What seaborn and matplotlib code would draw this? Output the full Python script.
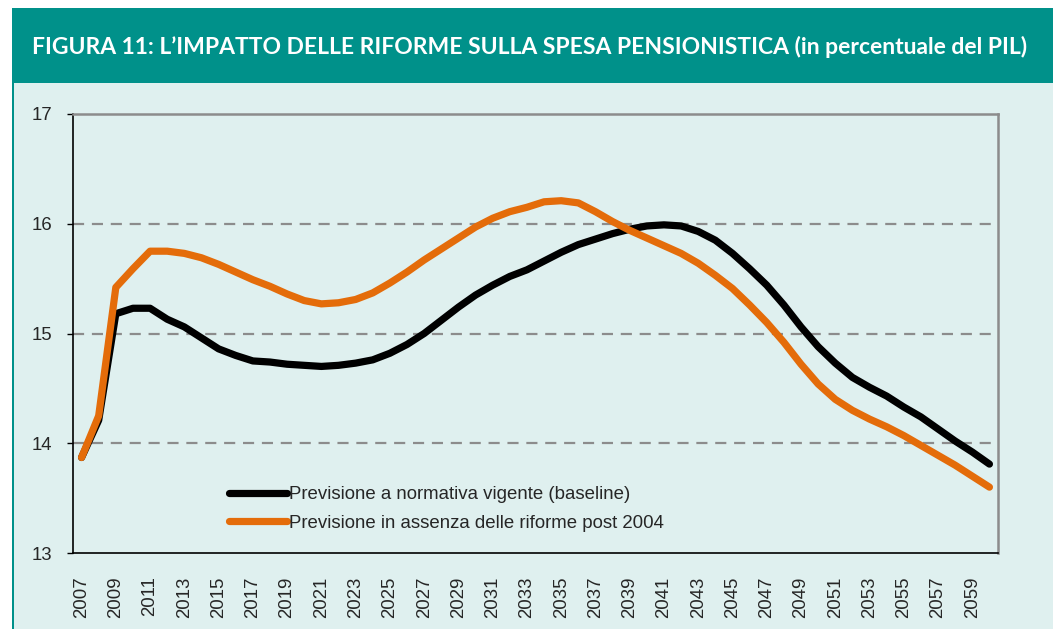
import pandas as pd
import seaborn as sns
import matplotlib.pyplot as plt
from matplotlib.patches import Rectangle

# Spesa pensionistica in % del PIL
years = list(range(2007, 2061))
baseline = [13.87, 14.21, 15.18, 15.23, 15.23, 15.13, 15.06, 14.96, 14.86, 14.80,
            14.75, 14.74, 14.72, 14.71, 14.70, 14.71, 14.73, 14.76, 14.82, 14.90,
            15.00, 15.12, 15.24, 15.35, 15.44, 15.52, 15.58, 15.66, 15.74, 15.81,
            15.86, 15.91, 15.95, 15.98, 15.99, 15.98, 15.93, 15.85, 15.73, 15.59,
            15.44, 15.26, 15.06, 14.88, 14.73, 14.60, 14.51, 14.43, 14.33, 14.24,
            14.13, 14.02, 13.92, 13.81]
no_reform = [13.87, 14.25, 15.42, 15.59, 15.75, 15.75, 15.73, 15.69, 15.63, 15.56,
             15.49, 15.43, 15.36, 15.30, 15.27, 15.28, 15.31, 15.37, 15.46, 15.56,
             15.67, 15.77, 15.87, 15.97, 16.05, 16.11, 16.15, 16.20, 16.21, 16.19,
             16.11, 16.02, 15.94, 15.87, 15.80, 15.73, 15.64, 15.53, 15.41, 15.26,
             15.10, 14.92, 14.72, 14.54, 14.40, 14.30, 14.22, 14.15, 14.07, 13.98,
             13.89, 13.80, 13.70, 13.60]
series_names = ["Previsione a normativa vigente (baseline)",
                "Previsione in assenza delle riforme post 2004"]
y_ticks = [13, 14, 15, 16, 17]
x_ticks = list(range(2007, 2060, 2))
title = "FIGURA 11: L\u2019IMPATTO DELLE RIFORME SULLA SPESA PENSIONISTICA (in percentuale del PIL)"

df = pd.DataFrame({
    "anno": years * 2,
    "valore": baseline + no_reform,
    "serie": [series_names[0]] * len(years) + [series_names[1]] * len(years),
})

teal = "#00918A"
panel = "#DFF0EF"
orange = "#E46C0A"
fs = 13.4

sns.set_style("white")
plt.rcParams["font.family"] = ["Liberation Sans", "DejaVu Sans"]

W, H = 1053, 629
fig = plt.figure(figsize=(W / 100, H / 100), dpi=100)
fig.patch.set_facecolor("white")

# title bar and light panel
fig.add_artist(Rectangle((12 / W, 0), 1 - 12 / W, 1 - 83 / H, transform=fig.transFigure,
                         facecolor=panel, edgecolor="none", zorder=0))
fig.add_artist(Rectangle((12 / W, 0), 2.2 / W, 1 - 83 / H, transform=fig.transFigure,
                         facecolor=teal, edgecolor="none", zorder=0))
fig.add_artist(Rectangle((12 / W, 1 - 83 / H), 1 - 12 / W, 75.5 / H, transform=fig.transFigure,
                         facecolor=teal, edgecolor="none", zorder=0))

ttl = fig.text(32 / W, 1 - 47 / H, title, color="white", fontsize=14,
               fontweight="bold", family="Lato", va="center", ha="left")
fig.canvas.draw()
w = ttl.get_window_extent().width
ttl.set_fontsize(14 * 998 / w)

ax = fig.add_axes([73 / W, 1 - 553 / H, 925 / W, (553 - 114) / H])
ax.set_facecolor("none")

sns.lineplot(data=df, x="anno", y="valore", hue="serie",
             palette=["black", orange], linewidth=5.2, ax=ax,
             solid_capstyle="round", legend=True)

ax.set_xlim(2006.5, 2060.5)
ax.set_ylim(13, 17)
ax.set_yticks(y_ticks)
ax.set_xticks(x_ticks)
ax.set_xticklabels([str(y) for y in x_ticks], rotation=90)
ax.tick_params(axis="y", length=4.5, width=1, color="black", pad=10.5, labelsize=fs, left=True)
ax.tick_params(axis="x", length=0, pad=17, labelsize=fs)
ax.set_xlabel("")
ax.set_ylabel("")

for v in y_ticks[1:-1]:
    ax.axhline(v, color="#8C8C8C", linewidth=1.6, linestyle=(0, (5, 3.5)), zorder=0)

for side in ["left", "bottom"]:
    ax.spines[side].set_color("black")
    ax.spines[side].set_linewidth(1.2)
for side in ["top", "right"]:
    ax.spines[side].set_color("#8C8C8C")
    ax.spines[side].set_linewidth(1.8)

leg = ax.legend(loc="center left", bbox_to_anchor=(229 / W, 1 - 509 / H),
                bbox_transform=fig.transFigure, frameon=False, fontsize=fs,
                handlelength=3.1, handletextpad=0.1, borderpad=0,
                borderaxespad=0, labelspacing=0.62)
for line in leg.get_lines():
    line.set_linewidth(5.2)

plt.savefig("out.png", dpi=100)
